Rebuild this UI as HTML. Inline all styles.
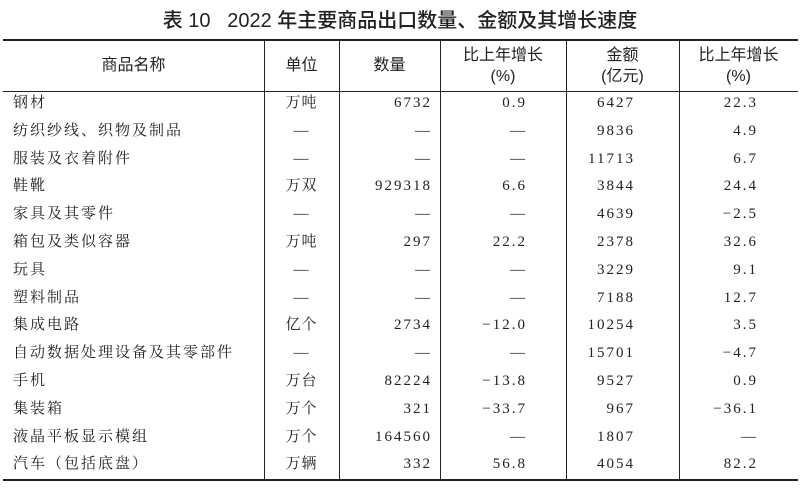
<!DOCTYPE html>
<html><head><meta charset="utf-8"><style>
body{margin:0;width:800px;height:502px;background:#fff;position:relative;overflow:hidden;font-family:"Liberation Serif","Noto Serif CJK SC",serif;color:#222}
.t{position:absolute;top:4px;left:0;width:800px;text-align:center;font-family:"Liberation Sans","Noto Sans CJK SC",sans-serif;font-size:20px;font-weight:500;white-space:pre}
.h{position:absolute;left:3px;width:795px;background:#222}
.v{position:absolute;top:40px;height:440px;width:1px;background:#222}
.c{position:absolute;font-size:15px;white-space:nowrap;line-height:18px}
.hd{position:absolute;font-family:"Liberation Sans","Noto Sans CJK SC",sans-serif;font-size:16px;text-align:center;line-height:21px}
</style></head><body>
<div class="t">表 10   2022 年主要商品出口数量、金额及其增长速度</div>
<div class="h" style="top:39px;height:2px"></div>
<div class="h" style="top:91px;height:1px"></div>
<div class="h" style="top:479px;height:2px"></div>
<div class="v" style="left:264px"></div>
<div class="v" style="left:339px"></div>
<div class="v" style="left:440px"></div>
<div class="v" style="left:566px"></div>
<div class="v" style="left:679px"></div>
<div class="hd" style="left:3px;width:261px;top:55px">商品名称</div>
<div class="hd" style="left:264px;width:75px;top:55px">单位</div>
<div class="hd" style="left:339px;width:101px;top:55px">数量</div>
<div class="hd" style="left:440px;width:126px;top:45px">比上年增长<br>(%)</div>
<div class="hd" style="left:566px;width:113px;top:45px">金额<br>(亿元)</div>
<div class="hd" style="left:679px;width:119px;top:45px">比上年增长<br>(%)</div>
<div id="rows"></div>
<script>
var d=[["钢材","万吨","6732","0.9","6427","22.3"],
["纺织纱线、织物及制品","—","—","—","9836","4.9"],
["服装及衣着附件","—","—","—","11713","6.7"],
["鞋靴","万双","929318","6.6","3844","24.4"],
["家具及其零件","—","—","—","4639","−2.5"],
["箱包及类似容器","万吨","297","22.2","2378","32.6"],
["玩具","—","—","—","3229","9.1"],
["塑料制品","—","—","—","7188","12.7"],
["集成电路","亿个","2734","−12.0","10254","3.5"],
["自动数据处理设备及其零部件","—","—","—","15701","−4.7"],
["手机","万台","82224","−13.8","9527","0.9"],
["集装箱","万个","321","−33.7","967","−36.1"],
["液晶平板显示模组","万个","164560","—","1807","—"],
["汽车（包括底盘）","万辆","332","56.8","4054","82.2"]];
var h="";
d.forEach(function(r,i){var y=94+i*27.8;
h+='<div class="c" style="left:13px;top:'+y+'px;letter-spacing:2px">'+r[0]+'</div>';
h+='<div class="c" style="left:264px;width:75px;text-align:center;top:'+y+'px;letter-spacing:1px">'+r[1]+'</div>';
var R=[[2,8],[3,39],[4,44],[5,40]],L=[339,440,566,679],W=[101,126,113,119];
R.forEach(function(p,j){h+='<div class="c" style="left:'+L[j]+'px;width:'+(W[j]-p[1])+'px;text-align:right;top:'+y+'px;letter-spacing:2px">'+r[p[0]]+'</div>';});
});
document.getElementById("rows").innerHTML=h;
</script>
</body></html>
